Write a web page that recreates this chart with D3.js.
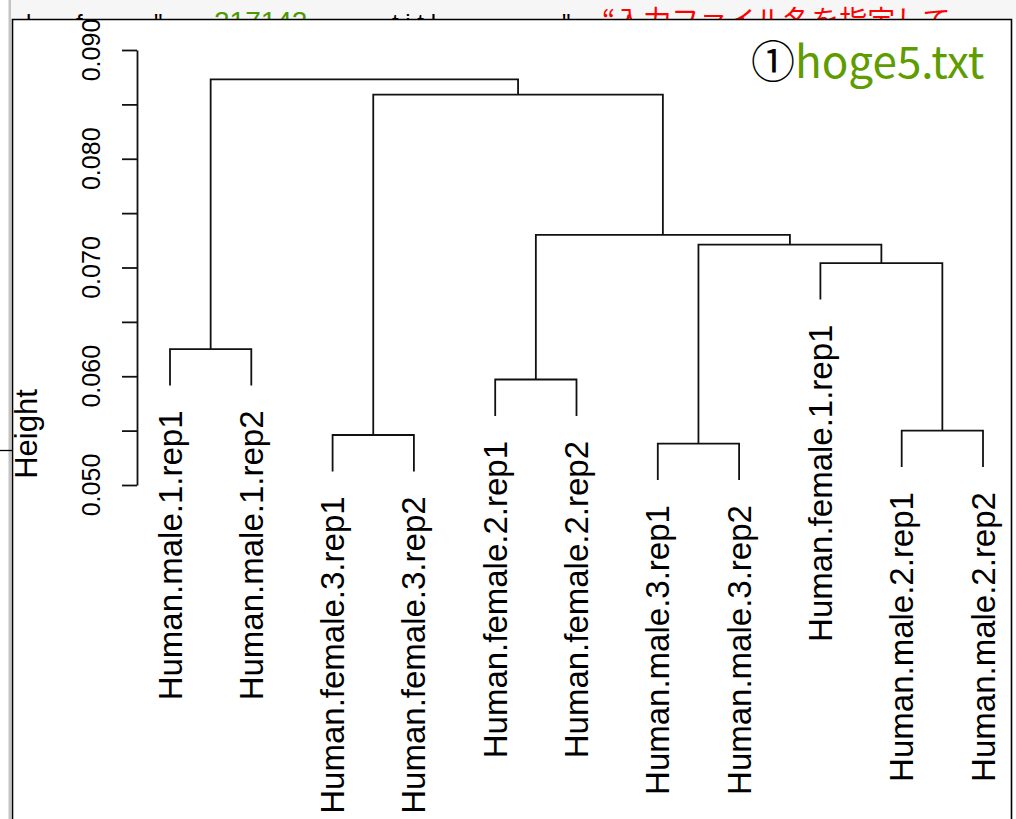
<!DOCTYPE html>
<html>
<head>
<meta charset="utf-8">
<script src="https://cdn.jsdelivr.net/npm/d3@7"></script>
<style>
  body { margin: 0; background: #fff; }
  svg { display: block; }
</style>
</head>
<body>
<script>
// leaf labels in dendrogram order
var leafLabels = ["Human.male.1.rep1", "Human.male.1.rep2", "Human.female.3.rep1", "Human.female.3.rep2",
                  "Human.female.2.rep1", "Human.female.2.rep2", "Human.male.3.rep1", "Human.male.3.rep2",
                  "Human.female.1.rep1", "Human.male.2.rep1", "Human.male.2.rep2"];

// hclust style merge table: negative = leaf (position in order), positive = earlier merge step
var mergeLeft   = [-7, -3, -10, -5, -1, -9, 1, 4, 2, 5];
var mergeRight  = [-8, -4, -11, -6, -2, 3, 6, 7, 8, 9];
var mergeHeight = [0.0538, 0.0546, 0.0550, 0.0597, 0.0625, 0.0704, 0.0721, 0.0730, 0.0859, 0.0873];

// y axis
var tickValues = [0.050, 0.055, 0.060, 0.065, 0.070, 0.075, 0.080, 0.085, 0.090];
var tickLabels = ["0.050", "0.060", "0.070", "0.080", "0.090"];
var labelValues = [0.050, 0.060, 0.070, 0.080, 0.090];

var W = 1016, H = 819;

var svg = d3.select("body").append("svg")
    .attr("width", W)
    .attr("height", H);

// --- window chrome around the R plot ---
svg.append("rect").attr("x", 0).attr("y", 0).attr("width", W).attr("height", H).attr("fill", "#fff");
svg.append("rect").attr("x", 11).attr("y", 0).attr("width", W - 11).attr("height", 19).attr("fill", "#f6f6f6");
svg.append("rect").attr("x", 8.5).attr("y", 0).attr("width", 2.5).attr("height", H).attr("fill", "#c4c4c4");

// code line behind the plot window (only the top is visible)
var defs = svg.append("defs");
defs.append("clipPath").attr("id", "topclip")
  .append("rect").attr("x", 11).attr("y", 0).attr("width", W).attr("height", 19);
defs.append("clipPath").attr("id", "plotclip")
  .append("rect").attr("x", 13).attr("y", 20).attr("width", 998).attr("height", H);

var code = svg.append("text")
    .attr("clip-path", "url(#topclip)")
    .attr("y", 31)
    .style("font-family", "'Liberation Sans', Arial, sans-serif")
    .style("font-size", "24px");
code.append("tspan").attr("x", 26).attr("fill", "#000").text("l");
code.append("tspan").attr("x", 76).attr("fill", "#000").text("f");
code.append("tspan").attr("x", 154).attr("fill", "#000").text("\"");
code.append("tspan").attr("x", 214).attr("fill", "#4a9a00").style("font-size", "28px").text("217142");
code.append("tspan").attr("x", 392).attr("fill", "#000").text("t   i   t   l");
code.append("tspan").attr("x", 562).attr("fill", "#000").text("\"");
code.append("tspan").attr("x", 602).attr("fill", "#ff0000")
    .style("font-family", "'Noto Sans CJK JP', sans-serif")
    .style("font-size", "28px")
    .text("“入力ファイル名を指定して");

svg.append("line").attr("x1", 0).attr("x2", 12).attr("y1", 450.5).attr("y2", 450.5)
    .attr("stroke", "#000").attr("stroke-width", 1.3);

var plot = svg.append("g").attr("clip-path", "url(#plotclip)");

// --- scales ---
var x = d3.scaleLinear().domain([1, leafLabels.length]).range([170, 983]);
var y = d3.scaleLinear().domain([0.05, 0.09]).range([485, 50]);

// --- dendrogram geometry ---
var hang = 0.1 * (d3.max(mergeHeight) - d3.min(mergeHeight));
var nodeX = [];

function childX(c) { return c < 0 ? -c : nodeX[c - 1]; }

var segs = [];
mergeHeight.forEach(function(h, i) {
  var a = mergeLeft[i], b = mergeRight[i];
  var xa = childX(a), xb = childX(b);
  nodeX[i] = (xa + xb) / 2;
  var ya = a < 0 ? h - hang : mergeHeight[a - 1];
  var yb = b < 0 ? h - hang : mergeHeight[b - 1];
  segs.push([[xa, ya], [xa, h], [xb, h], [xb, yb]]);
});

var leafTip = [];
mergeHeight.forEach(function(h, i) {
  if (mergeLeft[i] < 0) leafTip[-mergeLeft[i] - 1] = h - hang;
  if (mergeRight[i] < 0) leafTip[-mergeRight[i] - 1] = h - hang;
});

var line = d3.line().x(function(d) { return x(d[0]); }).y(function(d) { return y(d[1]); });

plot.selectAll(".branch")
    .data(segs)
  .enter().append("path")
    .attr("class", "branch")
    .attr("d", line)
    .attr("fill", "none")
    .attr("stroke", "#111")
    .attr("stroke-width", 1.8);

plot.selectAll(".leaf")
    .data(leafLabels)
  .enter().append("text")
    .attr("class", "leaf")
    .attr("transform", function(d, i) {
      return "translate(" + x(i + 1) + "," + (y(leafTip[i]) + 25) + ") rotate(-90)";
    })
    .attr("dy", "0.35em")
    .attr("text-anchor", "end")
    .style("font-family", "'Liberation Sans', Arial, sans-serif")
    .style("font-size", "33px")
    .attr("fill", "#000")
    .text(function(d) { return d; });

// --- axis ---
var yAxis = d3.axisLeft(y)
    .tickValues(tickValues)
    .tickSize(15)
    .tickSizeOuter(0)
    .tickFormat("");

var ax = plot.append("g")
    .attr("transform", "translate(137,0)")
    .call(yAxis);
ax.selectAll("path, line").attr("stroke", "#111").attr("stroke-width", 1.8);

plot.selectAll(".tlab")
    .data(labelValues)
  .enter().append("text")
    .attr("class", "tlab")
    .attr("transform", function(d) { return "translate(100," + y(d) + ") rotate(-90)"; })
    .attr("text-anchor", "middle")
    .style("font-family", "'Liberation Sans', Arial, sans-serif")
    .style("font-size", "25px")
    .attr("fill", "#000")
    .text(function(d, i) { return tickLabels[i]; });

plot.append("text")
    .attr("transform", "translate(37,434) rotate(-90)")
    .attr("text-anchor", "middle")
    .style("font-family", "'Liberation Sans', Arial, sans-serif")
    .style("font-size", "31px")
    .attr("fill", "#000")
    .text("Height");

// frame of the plot window
svg.append("path")
    .attr("d", "M12.5," + H + "V19.5H1011.5V" + H)
    .attr("fill", "none")
    .attr("stroke", "#000")
    .attr("stroke-width", 1.6);

// annotation
var note = svg.append("text")
    .attr("x", 751)
    .attr("y", 78)
    .style("font-family", "'Noto Sans CJK JP', sans-serif")
    .style("font-size", "44px");
note.append("tspan").attr("fill", "#000").text("①");
note.append("tspan").attr("fill", "#5e9c00").text("hoge5.txt");
</script>
</body>
</html>
